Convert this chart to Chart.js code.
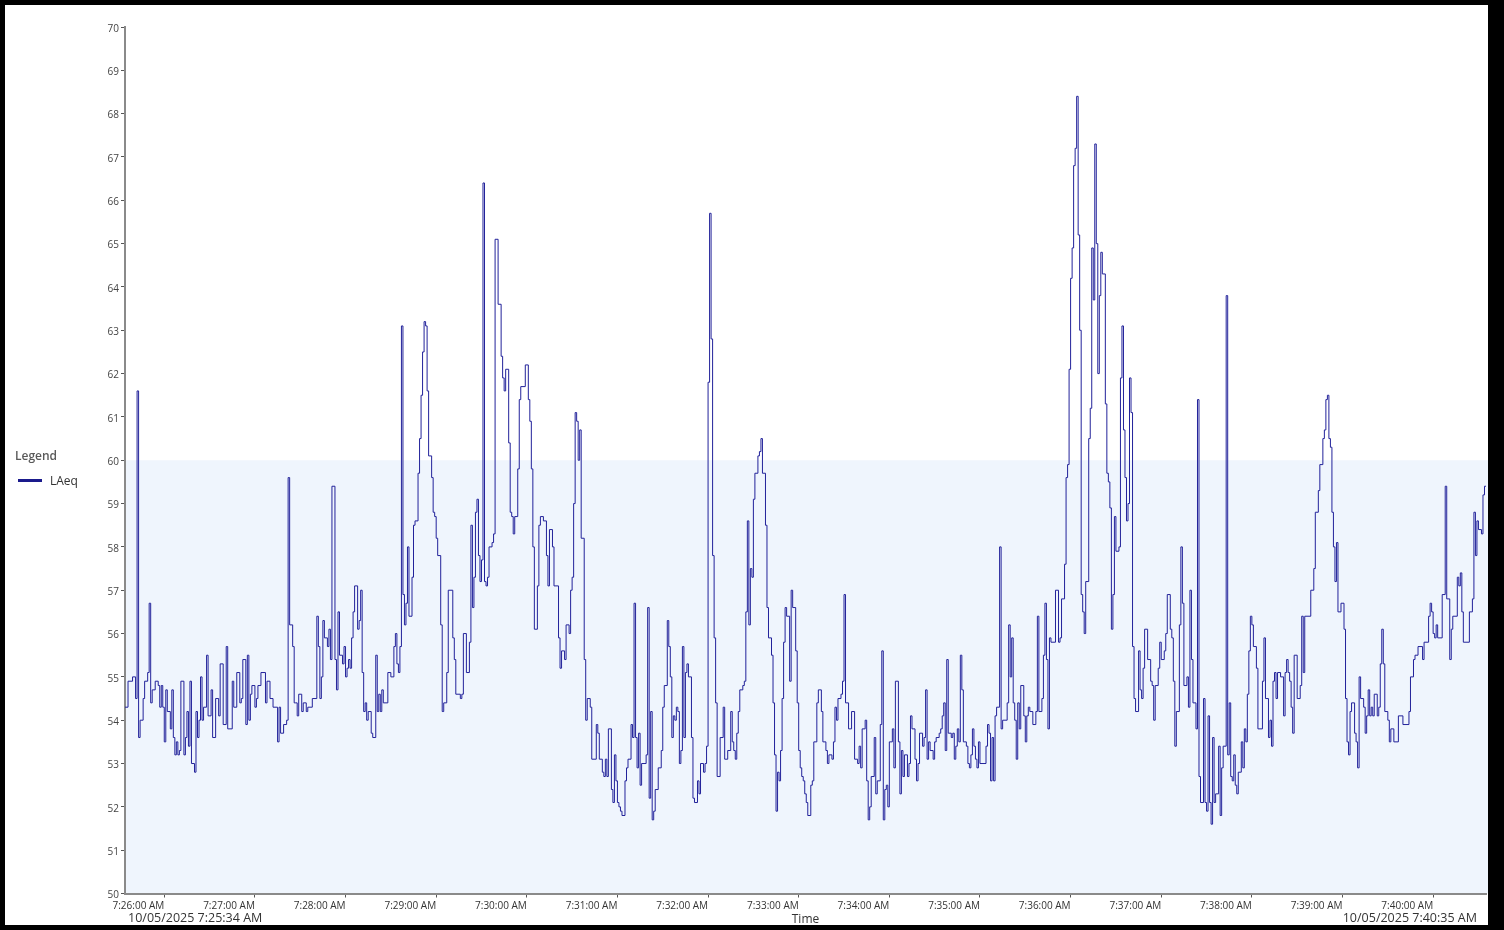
<!DOCTYPE html>
<html>
<head>
<meta charset="utf-8">
<script src="https://cdn.jsdelivr.net/npm/chart.js@4.4.1/dist/chart.umd.min.js"></script>
<style>
  html, body { margin: 0; padding: 0; background: #000; width: 1504px; height: 930px; overflow: hidden; }
  #frame { position: absolute; left: 5px; top: 5px; width: 1483px; height: 920px; background: #fff; }
  #chart { position: absolute; left: 0; top: 0; }
  .lbl { position: absolute; font-family: 'Open Sans', sans-serif; color: #333; white-space: nowrap; line-height: 16px; }
</style>
</head>
<body>
<div id="frame">
  <canvas id="chart" width="1483" height="920"></canvas>
  <div class="lbl" style="left:10px; top:443px; font-size:12px; font-weight:600; color:#5a5a5a">Legend</div>
  <div style="position:absolute; left:13px; top:474px; width:24px; height:3px; background:#1a1a8c"></div>
  <div class="lbl" style="left:45px; top:468px; font-size:12px">LAeq</div>
  <div class="lbl" style="left:123px; top:905px; font-size:12.5px">10/05/2025 7:25:34 AM</div>
  <div class="lbl" style="right:11px; top:905px; font-size:12.5px">10/05/2025 7:40:35 AM</div>
</div>
<script>
// seconds after 7:25:34 AM where each LAeq step starts
const secs = [
  0, 2, 5, 7, 8, 9, 10, 12, 13, 15,
  16, 17, 18, 20, 22, 23, 24, 25, 26, 27,
  28, 30, 31, 32, 33, 34, 35, 36, 37, 39,
  40, 41, 42, 43, 44, 46, 47, 48, 49, 50,
  51, 52, 54, 55, 57, 58, 60, 62, 63, 65,
  67, 68, 71, 72, 74, 76, 77, 78, 80, 81,
  82, 83, 84, 86, 87, 88, 90, 93, 94, 96,
  98, 101, 102, 103, 105, 107, 108, 109, 111, 112,
  113, 114, 115, 117, 118, 120, 121, 124, 127, 128,
  129, 130, 131, 132, 134, 135, 136, 137, 139, 140,
  141, 142, 144, 145, 146, 147, 148, 149, 150, 151,
  152, 154, 155, 156, 157, 158, 159, 160, 161, 163,
  164, 166, 167, 168, 169, 170, 171, 174, 176, 178,
  179, 180, 181, 182, 183, 184, 185, 186, 187, 188,
  190, 191, 192, 194, 195, 196, 197, 198, 199, 200,
  201, 203, 204, 205, 206, 207, 209, 210, 211, 213,
  214, 217, 218, 219, 222,
  223, 224, 226, 228, 229, 230, 231, 232, 233, 234,
  235, 236, 237, 238, 239, 240, 241, 243, 244, 245,
  247, 249, 250, 251, 252, 254, 255, 256, 257, 258,
  260, 261, 262, 265, 267, 268, 269, 270, 271, 273,
  274, 275, 277, 279, 280, 281, 283, 284, 287, 288,
  289, 291, 292, 294, 295, 296, 297, 298, 299, 300,
  301, 302, 304, 305, 306, 308, 309, 312, 313, 314,
  316, 317, 318, 319, 320, 322, 323, 324, 325, 326,
  327, 328, 329, 331, 332, 333, 335, 336, 337,
  338, 339, 340, 341, 342, 345, 346, 347, 348, 349,
  350, 351, 353, 355, 356, 357, 359, 360, 361, 362,
  363, 364, 365, 366, 367, 368, 369, 370, 371, 372,
  373, 375, 376, 377, 379, 380, 381, 383, 384, 385,
  386, 387, 388, 389, 390, 391, 392, 394, 396, 397,
  399, 401, 402, 403, 404, 405, 406, 407, 409, 410,
  411, 412, 413, 414, 415, 416, 417, 419, 420, 421,
  422, 424, 425, 426, 428, 429, 430, 431, 432, 433,
  434, 435, 436, 437, 438, 440, 441, 442, 444, 445,
  446, 447,
  448, 449, 450, 451, 452, 454, 455, 456, 458, 459,
  461, 462, 464, 465, 466, 468, 469, 470, 471, 472,
  474, 475, 476, 477, 479, 481, 483, 485, 486, 487,
  488, 490, 491, 492, 493, 494, 496, 497, 498, 500,
  501, 502, 503, 504, 505, 506, 508, 509, 510, 512,
  513, 514, 515, 516, 518, 519, 520, 521, 523, 524,
  525, 526, 528, 529, 530, 531, 532, 533, 535, 536,
  537, 539, 540, 541, 542, 543, 544, 545, 547, 548,
  549, 550, 551, 552, 553, 554, 555, 557, 558, 559,
  560, 561, 562, 563, 564, 565, 566, 570, 571, 572,
  573, 574, 575, 576, 577, 579, 580, 581, 584, 585,
  586, 587, 588, 589, 590, 591, 592, 593, 595, 596,
  597, 598, 599, 601, 603, 604, 605, 607, 608, 609,
  610, 611, 612, 613, 616, 618, 619, 620, 622, 623,
  624, 625, 626, 627, 628, 629, 630, 631, 632, 633,
  634, 635, 636, 638, 639, 640, 641, 642, 643, 644,
  645, 646, 647, 649, 650, 651, 652, 653, 654, 655,
  656, 658, 659, 660, 661, 662, 663, 664, 665, 666,
  667, 668, 669, 671,
  672, 673, 674, 675, 677, 679, 680, 681, 682, 684,
  685, 686, 688, 689, 690, 692, 693, 694, 695, 696,
  698, 699, 700, 701, 703, 704, 705, 706, 707, 709,
  710, 711, 712, 714, 715, 716, 717, 718, 719, 720,
  721, 722, 724, 725, 726, 727, 729, 730, 731, 732,
  733, 734, 735, 736, 737, 739, 740, 741, 742, 743,
  744, 745, 746, 747, 749, 750, 753, 754, 755, 757,
  758, 759, 760, 761, 762, 763, 765, 767, 768, 769,
  770, 771, 772, 773, 774, 776, 778, 779, 780, 781,
  785, 787, 788, 790, 791, 793, 794, 795, 796, 797,
  798, 799, 800, 801, 802, 803, 805, 807, 808, 809,
  810, 811, 812, 814, 815, 816, 817, 818, 820, 821,
  822, 823, 824, 825, 826, 827, 829, 830, 831, 832,
  833, 834, 836, 837, 838, 840, 843, 846, 850, 851,
  853, 854, 856, 859, 860, 863, 864, 865, 866, 867,
  868, 869, 872, 874, 875, 877, 878, 879, 882, 883,
  884, 885, 886, 890, 892, 893, 894, 895, 896, 898,
  899, 900
];

// LAeq (dB) for each step above
const laeq = [
  54.3, 54.9, 55.0, 54.5, 61.6, 53.6, 54.0, 54.5, 54.9, 55.1,
  56.7, 54.4, 54.7, 54.9, 54.8, 54.3, 54.8, 54.3, 53.5, 54.7,
  54.2, 53.8, 54.7, 53.6, 53.2, 53.5, 53.2, 53.3, 54.9, 53.2,
  53.6, 54.2, 53.4, 54.9, 53.0, 52.8, 54.2, 53.6, 54.0, 55.0,
  54.0, 54.3, 55.5, 54.1, 54.7, 53.6, 54.5, 54.1, 55.3, 53.9,
  55.7, 53.8, 54.9, 54.3, 55.1, 54.4, 54.5, 55.4, 53.9, 55.5,
  54.0, 54.6, 54.8, 54.3, 54.5, 54.8, 55.1, 54.4, 54.9, 54.5,
  54.3, 53.5, 54.3, 53.7, 53.9, 54.0, 59.6, 56.2, 55.7, 54.4,
  54.4, 54.1, 54.6, 54.2, 54.4, 54.2, 54.3, 54.5, 56.4, 55.7,
  54.5, 55.0, 56.3, 55.9, 55.7, 56.1, 55.4, 59.4, 55.4, 54.7,
  56.5, 55.5, 55.3, 55.7, 55.0, 55.2, 55.4, 55.2, 55.9, 56.5,
  57.1, 56.1, 56.3, 57.0, 55.1, 54.2, 54.4, 54.0, 54.2, 53.7,
  53.6, 55.5, 54.2, 54.6, 54.2, 54.7, 54.4, 55.1, 55.0, 55.7,
  56.0, 55.3, 55.1, 55.7, 63.1, 56.9, 56.2, 56.7, 58.0, 56.4,
  57.3, 58.5, 58.6, 59.7, 60.5, 61.5, 62.5, 63.2, 63.1, 61.6,
  60.1, 59.6, 58.8, 58.7, 58.2, 57.8, 56.2, 54.2, 54.4, 55.1,
  57.0, 55.9, 55.4, 54.6, 54.5,
  54.6, 56.0, 55.1, 55.8, 58.5, 56.6, 57.3, 58.8, 59.1, 57.8,
  57.2, 57.7, 66.4, 57.2, 57.1, 57.3, 58.0, 58.1, 58.3, 65.1,
  63.6, 62.4, 61.9, 61.6, 62.1, 60.4, 58.8, 58.7, 58.3, 58.7,
  59.8, 61.4, 61.7, 62.2, 61.4, 60.9, 59.8, 58.0, 56.1, 57.1,
  58.5, 58.7, 58.6, 57.8, 57.1, 58.4, 58.0, 57.1, 55.9, 55.2,
  55.6, 55.4, 56.2, 56.0, 57.0, 57.3, 59.0, 61.1, 60.9, 60.0,
  60.7, 58.2, 55.4, 54.0, 54.5, 54.3, 53.1, 53.9, 53.7, 53.1,
  52.8, 52.7, 53.1, 52.7, 53.8, 52.4, 52.1, 53.2, 52.6, 52.1,
  52.0, 51.9, 51.8, 52.6, 52.9, 53.1, 53.9, 53.6, 56.7,
  53.6, 52.9, 53.7, 52.5, 53.0, 53.2, 56.6, 52.2, 54.2, 51.7,
  51.9, 52.4, 52.9, 53.3, 54.3, 54.8, 56.3, 55.7, 55.0, 53.6,
  54.1, 54.0, 54.3, 54.2, 53.0, 53.3, 55.7, 53.6, 55.1, 55.3,
  55.0, 53.6, 52.2, 52.1, 52.6, 52.3, 53.0, 52.8, 53.0, 53.4,
  61.8, 65.7, 62.8, 57.8, 55.9, 54.4, 52.7, 53.6, 54.3, 53.1,
  53.3, 54.2, 53.5, 53.3, 53.1, 53.7, 54.2, 54.7, 54.8, 54.9,
  56.5, 58.6, 56.2, 57.5, 57.3, 59.1, 59.7, 60.1, 60.2, 60.5,
  59.7, 58.5, 56.6, 55.9, 55.5, 54.4, 53.2, 51.9, 52.8, 52.6,
  53.3, 54.5, 55.8, 56.6, 56.4, 54.9, 57.0, 56.6, 55.6, 54.4,
  53.3, 52.9,
  52.7, 52.6, 52.3, 52.1, 51.8, 52.5, 52.6, 53.5, 54.4, 54.7,
  54.2, 53.5, 53.3, 53.0, 53.2, 53.1, 53.5, 54.3, 54.0, 54.5,
  54.6, 54.9, 56.9, 54.4, 53.8, 54.2, 53.1, 53.0, 53.4, 52.9,
  53.8, 54.0, 52.6, 51.7, 52.0, 52.7, 53.6, 52.3, 52.6, 53.9,
  55.6, 51.7, 52.4, 52.5, 52.0, 53.5, 53.8, 52.9, 54.9, 53.5,
  52.3, 53.3, 52.7, 53.2, 52.7, 53.0, 54.1, 53.8, 53.1, 52.6,
  53.0, 53.7, 53.4, 53.6, 54.7, 53.1, 53.5, 53.3, 53.1, 53.5,
  53.6, 53.7, 53.8, 54.1, 54.4, 53.3, 55.4, 53.7, 53.6, 53.7,
  53.1, 53.4, 53.8, 53.5, 55.5, 54.7, 53.5, 53.4, 53.0, 52.9,
  53.2, 53.8, 53.4, 53.1, 52.9, 53.5, 53.0, 53.4, 53.9, 53.7,
  52.6, 53.6, 52.6, 54.1, 54.3, 58.0, 53.8, 54.0, 54.4, 56.2,
  55.0, 55.9, 54.4, 54.0, 53.1, 54.4, 53.8, 54.8, 54.1, 53.5,
  54.1, 54.3, 54.2, 53.9, 54.2, 56.4, 54.2, 54.5, 55.5, 56.7,
  55.4, 53.8, 55.9, 55.8, 57.0, 55.8, 55.9, 56.8, 57.6, 59.6,
  59.9, 62.1, 64.2, 64.9, 66.8, 67.2, 68.4, 65.2, 63.0, 56.9,
  56.5, 56.0, 57.2, 60.5, 61.2, 64.9, 63.7, 67.3, 65.0, 62.0,
  63.8, 64.8, 64.3, 61.3, 59.7, 59.5, 58.9, 56.1, 56.9, 58.7,
  57.9, 58.0, 61.9, 63.1, 60.7, 59.6, 58.6, 59.0, 61.9, 61.1,
  55.7, 54.5, 54.2, 55.6,
  54.7, 54.5, 55.2, 56.1, 55.4, 54.9, 54.8, 54.0, 54.8, 55.2,
  55.8, 55.4, 55.6, 56.0, 56.9, 56.1, 55.9, 54.9, 53.4, 54.2,
  56.2, 58.0, 56.7, 54.8, 55.0, 54.3, 57.0, 55.4, 54.4, 53.8,
  61.4, 52.7, 52.1, 54.5, 52.1, 51.9, 54.1, 52.1, 51.6, 53.6,
  52.1, 52.3, 53.4, 51.8, 52.9, 53.4, 63.8, 53.2, 54.4, 52.7,
  52.6, 53.2, 52.5, 52.3, 52.8, 53.5, 52.9, 53.8, 53.5, 54.6,
  55.6, 56.4, 56.2, 55.7, 55.2, 53.8, 54.9, 55.9, 54.5, 53.6,
  54.0, 53.4, 54.9, 55.1, 54.5, 55.1, 55.0, 54.1, 55.1, 55.4,
  55.1, 54.9, 54.3, 53.7, 55.5, 54.5, 54.8, 56.4, 55.1, 56.4,
  57.0, 57.5, 58.8, 59.3, 59.9, 60.5, 60.7, 61.4, 61.5, 60.5,
  60.3, 58.8, 58.0, 57.2, 58.1, 56.5, 56.7, 56.1, 54.5, 53.5,
  53.2, 54.2, 54.4, 53.7, 53.5, 52.9, 55.0, 54.5, 54.3, 53.7,
  54.1, 54.7, 54.1, 54.3, 54.1, 54.6, 54.1, 54.3, 55.3, 56.1,
  55.3, 54.2, 54.0, 53.5, 53.8, 53.5, 54.1, 53.9, 54.2, 55.0,
  55.4, 55.5, 55.7, 55.4, 55.8, 56.4, 56.7, 56.5, 56.0, 55.9,
  56.2, 55.9, 56.9, 59.4, 56.8, 55.4, 56.1, 56.4, 57.3, 57.1,
  57.4, 56.5, 55.8, 56.5, 56.8, 58.8, 57.8, 58.6, 58.4, 58.3,
  59.2, 59.4
];

const endSec = 901; // 7:40:35 AM
const tickSecs = [26, 86, 146, 206, 266, 326, 386, 446, 506, 566, 626, 686, 746, 806, 866];
const tickLabels = ['7:26:00 AM', '7:27:00 AM', '7:28:00 AM', '7:29:00 AM', '7:30:00 AM',
  '7:31:00 AM', '7:32:00 AM', '7:33:00 AM', '7:34:00 AM', '7:35:00 AM',
  '7:36:00 AM', '7:37:00 AM', '7:38:00 AM', '7:39:00 AM', '7:40:00 AM'];
const bandLow = 50;
const bandHigh = 60;

const fontFamily = "'Open Sans', sans-serif";

const points = secs.map((s, i) => ({ x: s, y: laeq[i] }));
points.push({ x: endSec, y: laeq[laeq.length - 1] });

// light blue band behind the line between bandLow and bandHigh
const bandPlugin = {
  id: 'band',
  beforeDraw(chart) {
    const { ctx, chartArea, scales } = chart;
    const top = scales.y.getPixelForValue(bandHigh);
    const bottom = scales.y.getPixelForValue(bandLow);
    ctx.save();
    ctx.fillStyle = '#eff5fd';
    ctx.fillRect(chartArea.left, top, chartArea.right - chartArea.left + 2, bottom - top);
    ctx.restore();
  }
};

const ctx = document.getElementById('chart').getContext('2d');
new Chart(ctx, {
  type: 'line',
  data: {
    datasets: [{
      label: 'LAeq',
      data: points,
      stepped: true,
      borderColor: '#22229a',
      backgroundColor: '#22229a',
      borderWidth: 1,
      pointRadius: 0,
      fill: false
    }]
  },
  options: {
    responsive: false,
    animation: false,
    layout: { padding: { left: 90, right: 2, top: 22, bottom: 0 } },
    plugins: {
      legend: { display: false },
      tooltip: { enabled: false }
    },
    scales: {
      x: {
        type: 'linear',
        min: 0,
        max: endSec,
        afterBuildTicks: (scale) => { scale.ticks = tickSecs.map(v => ({ value: v })); },
        afterFit: (scale) => { scale.height = 31.5; },
        ticks: {
          autoSkip: false,
          maxRotation: 0,
          align: 'end',
          padding: 3,
          color: '#333',
          font: { family: fontFamily, size: 10 },
          callback: (v) => tickLabels[tickSecs.indexOf(v)]
        },
        grid: { drawOnChartArea: false, drawTicks: true, tickLength: 4, color: '#555' },
        border: { display: true, color: '#8a8a8a', width: 2 },
        title: { display: true, text: 'Time', color: '#333', font: { family: fontFamily, size: 12 }, padding: { top: 0, bottom: -2 } }
      },
      y: {
        min: 50,
        max: 70,
        afterFit: (scale) => { scale.width = 30; },
        ticks: { stepSize: 1, padding: 2, labelOffset: 2, color: '#444', font: { family: fontFamily, size: 10 } },
        grid: { drawOnChartArea: false, drawTicks: true, tickLength: 4, color: '#555' },
        border: { display: true, color: '#8a8a8a', width: 2 }
      }
    }
  },
  plugins: [bandPlugin]
});
</script>
</body>
</html>
